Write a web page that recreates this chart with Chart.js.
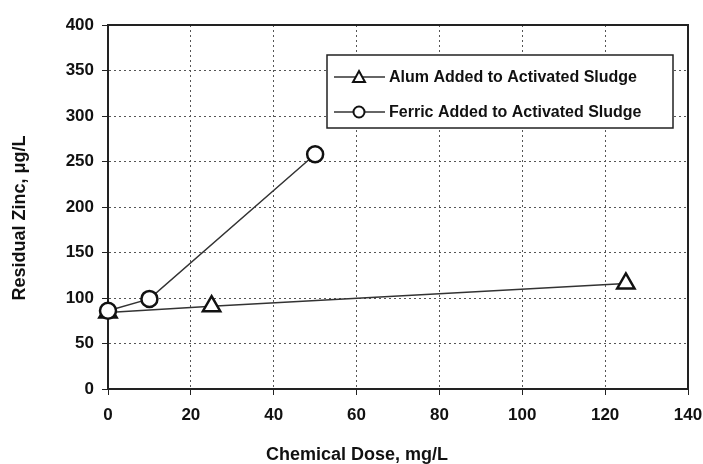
<!DOCTYPE html>
<html>
<head>
<meta charset="utf-8">
<script src="https://cdn.jsdelivr.net/npm/chart.js@4.4.0/dist/chart.umd.min.js"></script>
<style>
html,body{margin:0;padding:0;background:#fff;}
#wrap{width:703px;height:464px;position:relative;}
</style>
</head>
<body>
<div id="wrap"><canvas id="c" width="703" height="464"></canvas></div>
<script>
const alumDose = [0, 25, 125];
const alumZinc = [84, 91, 116];
const ferricDose = [0, 10, 50];
const ferricZinc = [86, 99, 258];
const seriesLabels = ['Alum Added to Activated Sludge', 'Ferric Added to Activated Sludge'];
const xTitle = 'Chemical Dose, mg/L';
const yTitle = 'Residual Zinc, \u03BCg/L';

const FONT = "'Liberation Sans', Arial, sans-serif";

const toPts = (xs, ys) => xs.map((x, i) => ({x: x, y: ys[i]}));

const frameAndText = {
  id: 'frameAndText',
  beforeDatasetsDraw(chart) {
    const {ctx, chartArea: a} = chart;
    ctx.save();
    ctx.strokeStyle = '#222';
    ctx.lineWidth = 2;
    ctx.strokeRect(a.left, a.top, a.right - a.left, a.bottom - a.top);
    ctx.restore();
  },
  afterDatasetsDraw(chart) {
    const {ctx} = chart;
    ctx.save();
    // legend
    const lx = 327, ly = 55, lw = 346, lh = 73;
    ctx.fillStyle = '#fff';
    ctx.fillRect(lx, ly, lw, lh);
    ctx.lineWidth = 1.5;
    ctx.strokeStyle = '#222';
    ctx.strokeRect(lx, ly, lw, lh);
    const rows = [77, 112];
    chart.data.datasets.forEach((ds, i) => {
      const y = rows[i];
      ctx.strokeStyle = '#333';
      ctx.lineWidth = 1.5;
      ctx.beginPath();
      ctx.moveTo(334, y); ctx.lineTo(385, y); ctx.stroke();
      ctx.fillStyle = '#fff';
      ctx.strokeStyle = '#111';
      ctx.lineWidth = 2;
      ctx.beginPath();
      if (ds.pointStyle === 'triangle') {
        ctx.moveTo(359, y - 6); ctx.lineTo(365, y + 5); ctx.lineTo(353, y + 5); ctx.closePath();
      } else {
        ctx.arc(359, y, 5.5, 0, Math.PI * 2);
      }
      ctx.fill(); ctx.stroke();
      ctx.fillStyle = '#111';
      ctx.font = 'bold 16px ' + FONT;
      ctx.textAlign = 'left';
      ctx.textBaseline = 'middle';
      ctx.fillText(ds.label, 389, y + 1);
    });
    // axis titles
    ctx.fillStyle = '#111';
    ctx.font = 'bold 18px ' + FONT;
    ctx.textAlign = 'center';
    ctx.textBaseline = 'middle';
    ctx.fillText(xTitle, 357, 455);
    ctx.translate(20, 218);
    ctx.rotate(-Math.PI / 2);
    ctx.fillText(yTitle, 0, 0);
    ctx.restore();
  }
};

new Chart(document.getElementById('c'), {
  type: 'scatter',
  data: {
    datasets: [
      {
        label: seriesLabels[0],
        data: toPts(alumDose, alumZinc),
        showLine: true,
        clip: false,
        borderColor: '#333',
        borderWidth: 1.5,
        pointStyle: 'triangle',
        pointRadius: 10,
        pointBackgroundColor: '#fff',
        pointBorderColor: '#111',
        pointBorderWidth: 2.5,
        order: 1
      },
      {
        label: seriesLabels[1],
        data: toPts(ferricDose, ferricZinc),
        showLine: true,
        clip: false,
        borderColor: '#333',
        borderWidth: 1.5,
        pointStyle: 'circle',
        pointRadius: 8,
        pointBackgroundColor: '#fff',
        pointBorderColor: '#111',
        pointBorderWidth: 2.5,
        order: 0
      }
    ]
  },
  options: {
    responsive: false,
    animation: false,
    layout: {padding: {left: 0, right: 0, top: 25, bottom: 0}},
    plugins: {legend: {display: false}, tooltip: {enabled: false}},
    scales: {
      x: {
        type: 'linear', min: 0, max: 140,
        ticks: {stepSize: 20, color: '#111', font: {family: FONT, size: 17, weight: 'bold'}, padding: 10},
        grid: {color: '#555', lineWidth: 1, tickLength: 6, tickColor: '#222', drawTicks: true},
        border: {display: true, color: '#222', width: 2, dash: [2, 3]},
        afterFit(s) { s.height = 75; s.paddingRight = 15; s.paddingLeft = 0; }
      },
      y: {
        type: 'linear', min: 0, max: 400,
        ticks: {stepSize: 50, color: '#111', font: {family: FONT, size: 17, weight: 'bold'}, padding: 8},
        grid: {color: '#555', lineWidth: 1, tickLength: 6, tickColor: '#222', drawTicks: true},
        border: {display: true, color: '#222', width: 2, dash: [2, 3]},
        afterFit(s) { s.width = 108; }
      }
    }
  },
  plugins: [frameAndText]
});
</script>
</body>
</html>
